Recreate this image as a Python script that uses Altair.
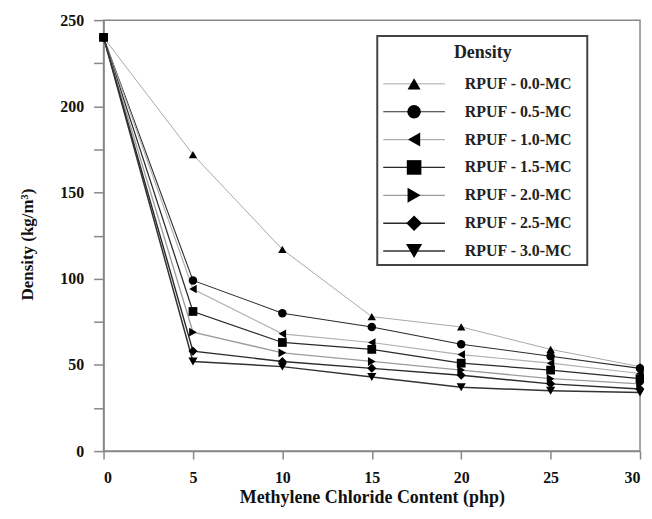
import altair as alt
import pandas as pd

# ---- data ----
mc_content = [0, 5, 10, 15, 20, 25, 30]
series_names = ["RPUF - 0.0-MC", "RPUF - 0.5-MC", "RPUF - 1.0-MC", "RPUF - 1.5-MC",
                "RPUF - 2.0-MC", "RPUF - 2.5-MC", "RPUF - 3.0-MC"]
d_00 = [240, 172, 117, 78, 72, 59, 49]
d_05 = [240, 99, 80, 72, 62, 55, 48]
d_10 = [240, 94, 68, 63, 56, 51, 45]
d_15 = [240, 81, 63, 59, 51, 47, 42]
d_20 = [240, 69, 57, 52, 47, 42, 39]
d_25 = [240, 58, 52, 48, 44, 39, 36]
d_30 = [240, 52, 49, 43, 37, 35, 34]
x_ticks = [0, 5, 10, 15, 20, 25, 30]
y_ticks = [0, 25, 50, 75, 100, 125, 150, 175, 200, 225, 250]

# ---- styles ----
line_colors = ["#a8a8a8", "#2a2a2a", "#b0b0b0", "#2a2a2a", "#9c9c9c", "#2a2a2a", "#333333"]
line_widths = [1, 1.5, 1, 1.5, 1, 1.5, 1.5]
shapes = ["triangle-up", "circle", "triangle-left", "square", "triangle-right", "diamond", "triangle-down"]
point_sizes = [70, 85, 45, 80, 45, 70, 70]
legend_sizes = [170, 260, 90, 240, 110, 190, 170]
FONT = "Liberation Serif"

all_series = [d_00, d_05, d_10, d_15, d_20, d_25, d_30]
rows = []
for name, vals in zip(series_names, all_series):
    for xv, yv in zip(mc_content, vals):
        rows.append({"series": name, "mc": xv, "density": yv})
df = pd.DataFrame(rows)
legend_df = pd.DataFrame({"series": series_names})
one = pd.DataFrame({"k": [0]})

color_scale = alt.Scale(domain=series_names, range=line_colors)
sw_scale = alt.Scale(domain=series_names, range=line_widths)
shape_scale = alt.Scale(domain=series_names, range=shapes)
x_scale = alt.Scale(domain=[0, 30], nice=False)
y_scale = alt.Scale(domain=[0, 250], nice=False)

x_enc = alt.X("mc:Q", scale=x_scale,
              axis=alt.Axis(values=x_ticks, title="Methylene Chloride Content (php)",
                            tickSize=8, labelPadding=11, titleY=47, titleBaseline="middle",
                            titleFontSize=18))
y_enc = alt.Y("density:Q", scale=y_scale,
              axis=alt.Axis(values=y_ticks, title="Density (kg/m³)",
                            labelExpr="datum.value % 50 === 0 ? datum.label : ''",
                            tickSize=10, labelPadding=10, titleX=-76, titleY=225,
                            titleAngle=-90, titleBaseline="middle", titleAlign="center",
                            titleFontSize=17))

lines = alt.Chart(df).mark_line().encode(
    x=x_enc, y=y_enc,
    color=alt.Color("series:N", scale=color_scale, legend=None),
    strokeWidth=alt.StrokeWidth("series:N", scale=sw_scale, legend=None),
    detail="series:N",
)
points = alt.Chart(df).mark_point(filled=True, color="black", opacity=1).encode(
    x=alt.X("mc:Q", scale=x_scale),
    y=alt.Y("density:Q", scale=y_scale),
    shape=alt.Shape("series:N", scale=shape_scale, legend=None),
    size=alt.Size("series:N", scale=alt.Scale(domain=series_names, range=point_sizes), legend=None),
)
main = alt.layer(lines, points)

leg_y = alt.Y("series:N", scale=alt.Scale(domain=series_names, range=[50, 246]), axis=None)

box = alt.Chart(one).mark_rect(fill="white", stroke="#444", strokeWidth=2).encode(
    x=alt.value(275), x2=alt.value(486), y=alt.value(16), y2=alt.value(246))
leg_title = alt.Chart(one).mark_text(text="Density", font=FONT, fontWeight="bold",
                                     fontSize=18, color="#222", align="center",
                                     baseline="middle").encode(
    x=alt.value(381), y=alt.value(33))
leg_rules = alt.Chart(legend_df).mark_rule().encode(
    x=alt.value(281), x2=alt.value(343), y=leg_y,
    color=alt.Color("series:N", scale=color_scale, legend=None),
    strokeWidth=alt.StrokeWidth("series:N", scale=sw_scale, legend=None),
)
leg_points = alt.Chart(legend_df).mark_point(filled=True, color="black", opacity=1).encode(
    x=alt.value(312), y=leg_y,
    shape=alt.Shape("series:N", scale=shape_scale, legend=None),
    size=alt.Size("series:N", scale=alt.Scale(domain=series_names, range=legend_sizes), legend=None),
)
leg_text = alt.Chart(legend_df).mark_text(font=FONT, fontWeight="bold", fontSize=16,
                                          color="#222", align="left", baseline="middle").encode(
    x=alt.value(363), y=leg_y, text="series:N")
legend = alt.layer(box, leg_title, leg_rules, leg_points, leg_text)

chart = alt.layer(main, legend).resolve_scale(y="independent", size="independent").properties(
    width=539, height=433,
    autosize=alt.AutoSizeParams(type="none"),
    padding={"left": 96, "top": 11, "right": 4, "bottom": 59},
).configure_axis(
    labelFont=FONT, labelFontWeight="bold", labelFontSize=16, labelColor="#111",
    titleFont=FONT, titleFontWeight="bold", titleColor="#111",
    domainColor="#888", tickColor="#888", domainWidth=1.5, tickWidth=1.5, grid=False,
).configure_view(stroke="#888", strokeWidth=1.5)

chart.save("out.html", embed_options={"renderer": "svg", "actions": False})
